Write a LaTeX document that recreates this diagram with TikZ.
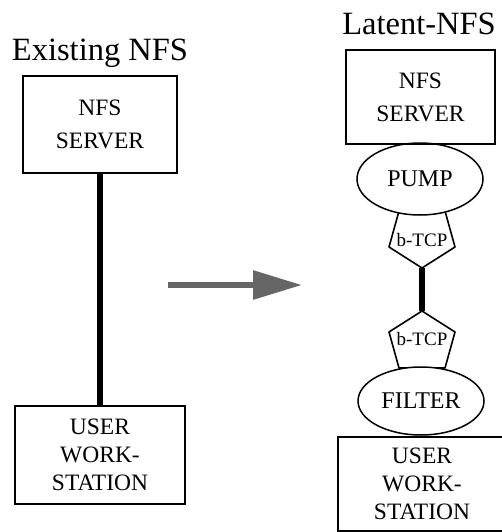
\documentclass[tikz,border=0pt]{standalone}
\usepackage{fontspec}
\setmainfont{Liberation Serif}
\usetikzlibrary{shapes.geometric,arrows.meta}
\tikzset{
  box/.style={draw,line width=1.5pt,align=center,inner sep=0pt,font=\fontsize{23.5}{33}\selectfont},
  wsbox/.style={box,font=\fontsize{23.5}{28}\selectfont},
  blob/.style={draw,ellipse,fill=white,line width=1.5pt,inner sep=0pt,minimum width=126pt,font=\fontsize{24}{26}\selectfont},
  pent/.style={draw,line width=1.6pt,line join=round},
  link/.style={line width=6.5pt},
  grayarrow/.style={line width=6pt,black!60,-{Triangle[length=49pt,width=28pt]}},
  title/.style={anchor=base,font=\fontsize{32.5}{36}\selectfont},
}
\newcommand\TCPpent[4]{
  % #1 name, (#2,#3) tip, #4 = 1 tip down, -1 tip up
  \draw[pent] (#2,#3) -- ++(33,{-21*#4}) -- ++(-10,{-36*#4}) -- ++(-46,0) -- ++(-10,{36*#4}) -- cycle;
  \coordinate (#1) at (#2,#3);
  \node[font=\fontsize{19}{20}\selectfont] (#1l) at (#2,{#3-28*#4}) {b-TCP};
}
\begin{document}
\begin{tikzpicture}[x=1pt,y=-1pt]
\useasboundingbox (0,0) rectangle (502,532);

% existing
\node[title] (tA) at (100,61) {Existing NFS};
\node[box,minimum width=154pt,minimum height=97pt] (srvA) at (100,124.5) {NFS\\SERVER};
\node[wsbox,minimum width=170pt,minimum height=98pt] (wsA) at (100,455) {USER\\WORK-\\STATION};
\draw[link] (srvA.south) -- (wsA.north);

\coordinate (arrA) at (168,285);
\coordinate (arrB) at (302,285);
\draw[grayarrow] (arrA) -- (arrB);

% latent
\node[title] (tB) at (419,35) {Latent-NFS};
\TCPpent{tcpA}{422}{268}{1}
\TCPpent{tcpB}{422}{311}{-1}
\draw[link] (tcpA) -- (tcpB);
\node[blob,minimum height=72pt] (pump) at (420,179) {PUMP};
\node[blob,minimum height=68pt] (filter) at (421,401) {FILTER};
\node[box,minimum width=149pt,minimum height=94pt] (srvB) at (420.5,97) {NFS\\SERVER};
\node[wsbox,minimum width=168pt,minimum height=94pt] (wsB) at (422,484) {USER\\WORK-\\STATION};
\end{tikzpicture}
\end{document}
